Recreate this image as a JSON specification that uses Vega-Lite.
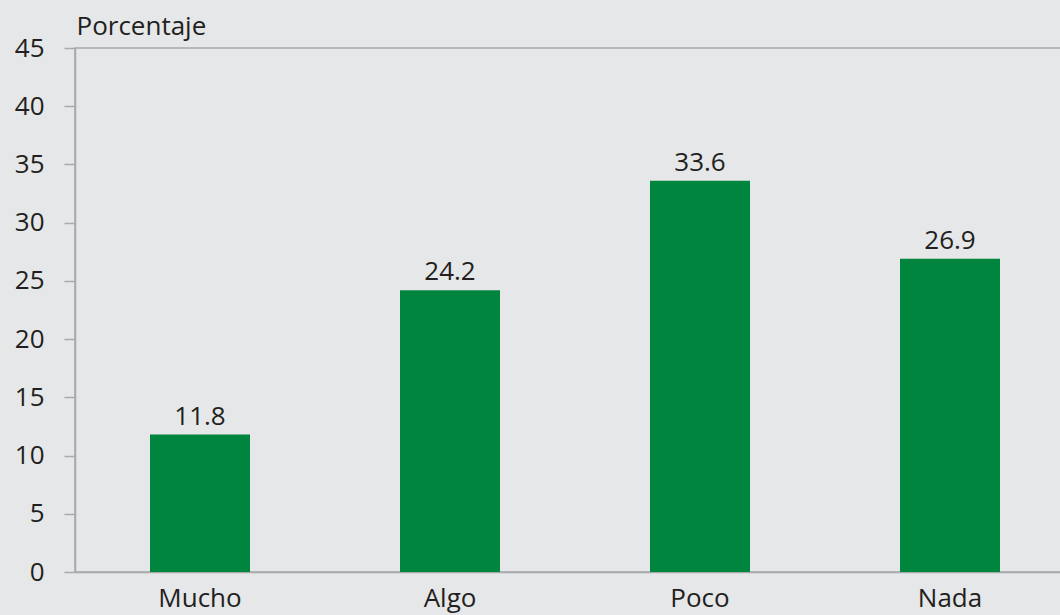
{
  "$schema": "https://vega.github.io/schema/vega-lite/v6.json",
  "width": 1000,
  "height": 524,
  "autosize": {"type": "none"},
  "padding": {"left": 75, "top": 48, "right": 0, "bottom": 43},
  "background": "#e6e7e9",
  "config": {
    "view": {"stroke": "#a7a9ac", "strokeWidth": 1.5},
    "font": "Open Sans",
    "axis": {"domainColor": "#a7a9ac", "tickColor": "#a7a9ac", "labelColor": "#231f20", "domainWidth": 1.5, "tickWidth": 1.5, "grid": false}
  },
  "data": {"values": [
    {"cat": "Mucho", "v": 11.8},
    {"cat": "Algo", "v": 24.2},
    {"cat": "Poco", "v": 33.6},
    {"cat": "Nada", "v": 26.9}
  ]},
  "encoding": {
    "x": {"field": "cat", "type": "nominal", "sort": null,
      "scale": {"paddingInner": 0.6, "paddingOuter": 0.3},
      "axis": {"title": null, "labelAngle": 0, "ticks": false, "labelFontSize": 26, "labelPadding": 13}},
    "y": {"field": "v", "type": "quantitative",
      "scale": {"domain": [0, 45], "nice": false},
      "axis": {"values": [0,5,10,15,20,25,30,35,40,45], "tickSize": 11, "labelPadding": 20, "labelFontSize": 26,
        "title": "Porcentaje", "titleAngle": 0, "titleAlign": "left", "titleBaseline": "alphabetic",
        "titleX": 1, "titleY": -14, "titleFontSize": 26, "titleFontWeight": "normal", "titleColor": "#231f20"}}
  },
  "layer": [
    {"mark": {"type": "bar", "color": "#00853f"}},
    {"mark": {"type": "text", "baseline": "bottom", "dy": -5, "fontSize": 26, "color": "#231f20"},
     "encoding": {"text": {"field": "v", "type": "quantitative", "format": ".1f"}}}
  ]
}
